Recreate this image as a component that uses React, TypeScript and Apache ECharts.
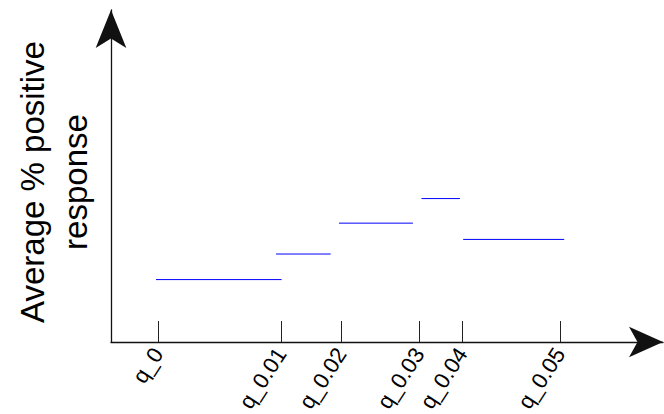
import React, { useEffect, useRef } from "react";
import * as echarts from "echarts";

// Tick positions on the x axis (relative position units) and their labels
const tickPositions = [8.51, 30.8, 41.7, 55.8, 63.6, 81.3];
const tickLabels = ["q_0", "q_0.01", "q_0.02", "q_0.03", "q_0.04", "q_0.05"];

// Horizontal segments: start, end, value (average % positive response)
const segStart = [8.15, 29.9, 41.3, 56.25, 63.8];
const segEnd = [30.9, 39.8, 54.7, 63.2, 82.1];
const segValue = [18.8, 26.5, 35.8, 43.2, 30.9];

const yTitle = "Average % positive\nresponse";

const FONT = "Liberation Sans, Arial, sans-serif";

export default function App() {
  const ref = useRef<HTMLDivElement>(null);
  useEffect(() => {
    if (!ref.current) return;
    const chart = echarts.init(ref.current, null, { renderer: "svg" });
    const series = segValue.map((v, i) => ({
      type: "line",
      data: [
        [segStart[i], v],
        [segEnd[i], v],
      ],
      symbol: "none",
      silent: true,
      color: "#0000ff",
      lineStyle: { color: "#0000ff", width: 1 },
    }));
    chart.setOption({
      animation: false,
      grid: { left: 111, right: 1, top: 10, bottom: 72, outerBoundsMode: "none", containLabel: false },
      graphic: [
        {
          type: "text",
          x: 54,
          y: 182,
          rotation: Math.PI / 2,
          style: {
            text: yTitle,
            font: `33px ${FONT}`,
            fill: "#000",
            align: "center",
            verticalAlign: "middle",
            lineHeight: 43,
          },
        },
      ],
      xAxis: {
        type: "value",
        min: 0,
        max: 100,
        splitLine: { show: false },
        axisLine: {
          show: true,
          lineStyle: { color: "#111", width: 1.3 },
          symbol: ["none", "arrow"],
          symbolSize: [23, 34],
        },
        axisTick: {
          show: true,
          inside: true,
          length: 21,
          customValues: tickPositions,
          lineStyle: { color: "#222", width: 1 },
        },
        axisLabel: {
          show: true,
          customValues: tickPositions,
          rotate: 57,
          margin: 8,
          fontSize: 22,
          fontFamily: FONT,
          color: "#000",
          formatter: (v: number) => {
            const idx = tickPositions.findIndex((t) => Math.abs(t - v) < 1e-6);
            return idx >= 0 ? tickLabels[idx] : "";
          },
        },
      },
      yAxis: {
        type: "value",
        min: 0,
        max: 100,
        splitLine: { show: false },
        axisLine: {
          show: true,
          lineStyle: { color: "#111", width: 1.3 },
          symbol: ["none", "arrow"],
          symbolSize: [23, 38],
        },
        axisTick: { show: false },
        axisLabel: { show: false },
      },
      series,
    });
    return () => chart.dispose();
  }, []);
  return (
    <div
      ref={ref}
      style={{ position: "fixed", left: 0, top: 0, width: 664, height: 414, background: "#fff" }}
    />
  );
}
